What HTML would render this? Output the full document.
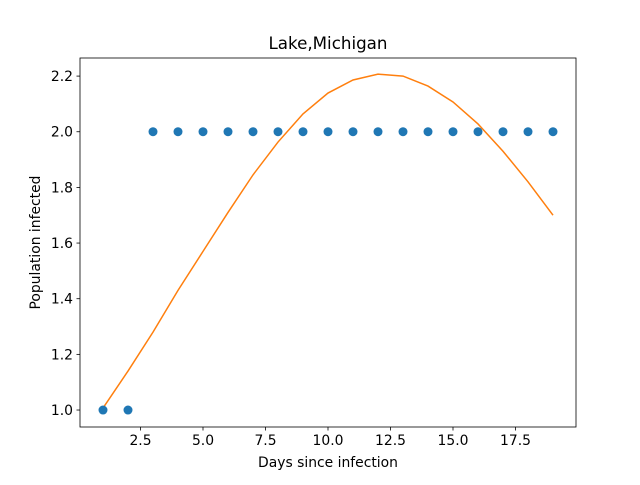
<!DOCTYPE html>
<html><head><meta charset="utf-8"><style>
body{margin:0;background:#fff;}
svg text{font-family:"DejaVu Sans","Liberation Sans",sans-serif;fill:#000;}
</style></head><body>
<svg id="chart" width="640" height="480" xmlns="http://www.w3.org/2000/svg"></svg>
<script>
const days=[1,2,3,4,5,6,7,8,9,10,11,12,13,14,15,16,17,18,19];
const observed=[1,1,2,2,2,2,2,2,2,2,2,2,2,2,2,2,2,2,2];
const fitted=[1.007,1.14,1.28,1.43,1.57,1.71,1.845,1.963,2.064,2.139,2.186,2.207,2.2,2.164,2.107,2.028,1.93,1.82,1.70];
const xTicks=[2.5,5.0,7.5,10.0,12.5,15.0,17.5];
const yTicks=[1.0,1.2,1.4,1.6,1.8,2.0,2.2];
const L=80,R=576,T=58,B=427;
const xMin=0.08,xMax=19.92,yMin=0.939,yMax=2.265;
const sx=v=>L+(v-xMin)/(xMax-xMin)*(R-L);
const sy=v=>B-(v-yMin)/(yMax-yMin)*(B-T);
const svg=document.getElementById('chart');
const NS='http://www.w3.org/2000/svg';
function mk(tag,attrs,name,text){const e=document.createElementNS(NS,tag);for(const k in attrs)e.setAttribute(k,attrs[k]);


if(text!==undefined)e.textContent=text;svg.appendChild(e);return e;}
let d='';fitted.forEach((v,i)=>{d+=(i?'L':'M')+sx(days[i])+','+sy(v);});
mk('path',{d:d,fill:'none',stroke:'#ff7f0e','stroke-width':1.5},'fitted-line');
observed.forEach((v,i)=>{mk('circle',{cx:sx(days[i]),cy:sy(v),r:4.5,fill:'#1f77b4'},'observed-point');});
mk('rect',{x:L,y:T,width:R-L,height:B-T,fill:'none',stroke:'#000','stroke-width':0.8},'plot-frame');
xTicks.forEach(t=>{const x=sx(t);mk('line',{x1:x,x2:x,y1:B,y2:B+3.5,stroke:'#000','stroke-width':0.8},'x-tick');
mk('text',{x:x,y:B+18,'font-size':13.9,'text-anchor':'middle'},'x-tick-label',t.toFixed(1));});
yTicks.forEach(t=>{const y=sy(t);mk('line',{x1:L-3.5,x2:L,y1:y,y2:y,stroke:'#000','stroke-width':0.8},'y-tick');
mk('text',{x:L-7,y:y+5,'font-size':13.9,'text-anchor':'end'},'y-tick-label',t.toFixed(1));});
mk('text',{x:(L+R)/2,y:467,'font-size':13.9,'text-anchor':'middle'},'x-axis-title','Days since infection');
mk('text',{x:40,y:(T+B)/2,'font-size':13.9,'text-anchor':'middle',transform:'rotate(-90 40 '+((T+B)/2)+')'},'y-axis-title','Population infected');
mk('text',{x:(L+R)/2,y:49,'font-size':16.7,'text-anchor':'middle'},'chart-title','Lake,Michigan');
</script>
</body></html>
